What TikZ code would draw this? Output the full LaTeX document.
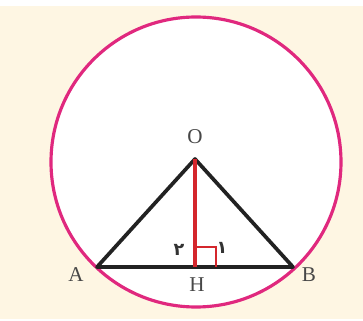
\documentclass[tikz,border=0pt]{standalone}
\usepackage{fontspec}
\usetikzlibrary{calc}
\setmainfont{Liberation Serif}
\newfontfamily\arabicfont[Script=Arabic]{DejaVu Sans}
\definecolor{bgbeige}{HTML}{FEF6E3}
\definecolor{circmag}{HTML}{E0287E}
\definecolor{segred}{HTML}{D4262C}
\definecolor{linegray}{HTML}{222222}
\tikzset{
  lbl/.style={font=\fontsize{12}{14}\selectfont, text=black!72, inner sep=0pt},
  digit/.style={font=\arabicfont\fontsize{10}{11}\selectfont\bfseries, text=black!80, inner sep=0pt},
  side/.style={draw=linegray, line width=2.1pt, line cap=round, line join=round},
}
\begin{document}
\begin{tikzpicture}[x=0.02cm,y=-0.02cm]
\useasboundingbox (0,0) rectangle (363,321);
\fill[white] (0,0) rectangle (363,321);
\fill[bgbeige] (0,6) rectangle (363,319);
\coordinate (O) at (195,159);
\coordinate (A) at (97,267);
\coordinate (B) at (293,267);
\coordinate (H) at (195,267);
\fill[white] (196,162) circle (145);
\draw[circmag, line width=1.8pt] (196,162) circle (145);
\draw[side] (A) -- (O) -- (B) -- cycle;
\draw[segred, line width=2pt] (O) -- (H);
\draw[segred, line width=1.4pt] ($(H)+(0,-20)$) -- ++(21,0) -- ++(0,20);
\node[lbl] (lO) at (195,137) {O};
\node[lbl] (lA) at (76,275) {A};
\node[lbl] (lB) at (309,275) {B};
\node[lbl] (lH) at (197,285) {H};
\node[digit] (d2) at (179,250) {۲};
\node[digit] (d1) at (222,248) {۱};
\end{tikzpicture}
\end{document}
